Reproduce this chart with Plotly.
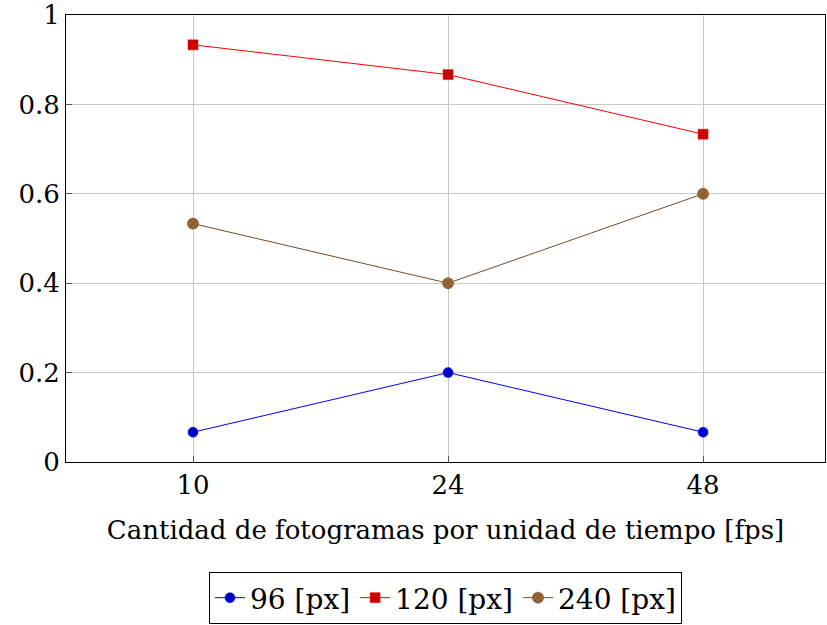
import plotly.graph_objects as go

categories = ["10", "24", "48"]
s96 = [0.0667, 0.2, 0.0667]
s120 = [0.9333, 0.8667, 0.7333]
s240 = [0.5333, 0.4, 0.6]
y_ticks = [0, 0.2, 0.4, 0.6, 0.8, 1]
y_labels = ["0", "0.2", "0.4", "0.6", "0.8", "1"]

FONT = "DejaVu Serif"
FS = 26

fig = go.Figure()
fig.add_trace(go.Scatter(x=categories, y=s96, name="96 [px]", mode="lines+markers",
                         line=dict(color="#0000ff", width=1),
                         marker=dict(symbol="circle", size=10, color="#0000cc",
                                     line=dict(color="#0000ff", width=0.5))))
fig.add_trace(go.Scatter(x=categories, y=s120, name="120 [px]", mode="lines+markers",
                         line=dict(color="#ff0000", width=1),
                         marker=dict(symbol="square", size=10, color="#cc0000",
                                     line=dict(color="#ff0000", width=0.5))))
fig.add_trace(go.Scatter(x=categories, y=s240, name="240 [px]", mode="lines+markers",
                         line=dict(color="#734d26", width=1),
                         marker=dict(symbol="circle-x", size=11, color="#996633",
                                     line=dict(color="#734d26", width=0.7))))

fig.update_layout(
    width=827, height=625,
    margin=dict(l=66, r=2, t=15, b=163, autoexpand=False),
    plot_bgcolor="white", paper_bgcolor="white",
    font=dict(family=FONT, size=FS, color="black"),
    showlegend=True,
    legend=dict(orientation="h", x=0.5, xanchor="center", y=-0.246, yanchor="top",
                bordercolor="black", borderwidth=1, font=dict(size=28, family=FONT),
                itemwidth=30, tracegroupgap=0),
)
fig.update_xaxes(type="category", range=[-0.498, 2.478], automargin=False,
                 showgrid=True, gridcolor="#c8c8c8", gridwidth=1,
                 showline=True, linecolor="black", linewidth=1, mirror=True,
                 ticks="inside", ticklen=6, tickcolor="#555555",
                 tickfont=dict(size=FS, family=FONT),
                 title=dict(text="Cantidad de fotogramas por unidad de tiempo [fps]",
                            font=dict(size=FS, family=FONT), standoff=21),
                 zeroline=False)
fig.update_yaxes(range=[0, 1], tickvals=y_ticks, ticktext=y_labels, automargin=False,
                 showgrid=True, gridcolor="#c8c8c8", gridwidth=1,
                 showline=True, linecolor="black", linewidth=1, mirror=True,
                 ticks="inside", ticklen=6, tickcolor="#555555",
                 tickfont=dict(size=FS, family=FONT), zeroline=False)

fig.write_html("out.html", config={"displayModeBar": False},
               post_script="document.body.style.margin='0';")
